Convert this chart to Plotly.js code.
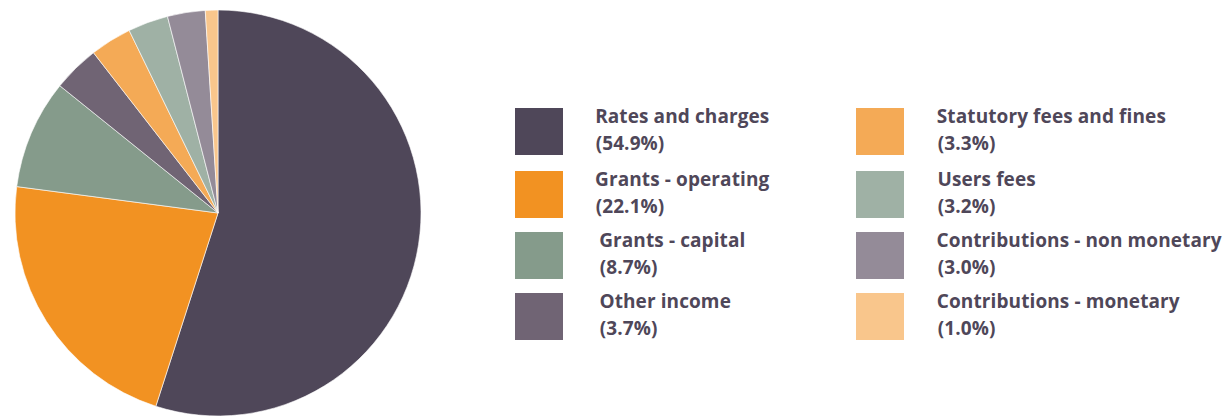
<!DOCTYPE html>
<html>
<head>
<meta charset="utf-8">
<script src="https://cdn.plot.ly/plotly-3.0.1.min.js"></script>
<style>
  html, body { margin: 0; padding: 0; background: #fff; }
  #chart { width: 1226px; height: 416px; }
  #chart .annotation-text { letter-spacing: 0.1px; }
</style>
</head>
<body>
<div id="chart"></div>
<script>
// ── Income sources (pie + two-column legend) ──

const categorias = [
    'Rates and charges',
    'Grants - operating',
    'Grants - capital',
    'Other income',
    'Statutory fees and fines',
    'Users fees',
    'Contributions - non monetary',
    'Contributions - monetary',
];
const porcentajes = [54.9, 22.1, 8.7, 3.7, 3.3, 3.2, 3.0, 1.0];
const colores = ['#4f4759', '#f29222', '#859b8b', '#706474', '#f4aa56', '#9fb1a5', '#948b98', '#f9c68c'];

const W = 1226, H = 416;
const TXT = '#4f4759';
const FONT = '"Open Sans", Lato, sans-serif';

// pixel -> paper helpers (margins are zero)
const px = x => x / W;
const py = y => 1 - y / H;

const pie = [
    {
        type: 'pie',
        labels: categorias,
        values: porcentajes,
        marker: { colors: colores, line: { color: '#ffffff', width: 0.6 } },
        sort: false,
        direction: 'clockwise',
        rotation: 0,
        textinfo: 'none',
        hoverinfo: 'label+percent',
        domain: { x: [px(15), px(421)], y: [0, py(10)] },
        showlegend: false,
    }
];

// legend: 4 rows x 2 columns, built from the arrays
const filas = [108, 171, 232, 293];
const colX = [515, 856];
const textX = [594, 936];
// the original nudges the last two left-column labels a little to the right
const sangria = [0, 0, 4, 4, 0, 0, 0, 0];
const shapes = [];
const annotations = [];
categorias.forEach((nombre, i) => {
    const col = Math.floor(i / 4);
    const fila = i % 4;
    const top = filas[fila];
    const tx = px(textX[col] + sangria[i]);
    shapes.push({
        type: 'rect', xref: 'paper', yref: 'paper',
        x0: px(colX[col]), x1: px(colX[col] + 48),
        y0: py(top), y1: py(top + 47),
        fillcolor: colores[i], line: { width: 0 },
    });
    annotations.push({
        xref: 'paper', yref: 'paper', x: tx, y: py(top + 8),
        xanchor: 'left', yanchor: 'middle', showarrow: false,
        text: '<b>' + nombre + '</b>',
        font: { family: FONT, size: 19, color: TXT },
    });
    annotations.push({
        xref: 'paper', yref: 'paper', x: tx, y: py(top + 35),
        xanchor: 'left', yanchor: 'middle', showarrow: false,
        text: '<b>(' + porcentajes[i].toFixed(1) + '%)</b>',
        font: { family: FONT, size: 19, color: TXT },
    });
});

Plotly.newPlot('chart', pie, {
    width: W, height: H,
    margin: { t: 0, r: 0, b: 0, l: 0 },
    paper_bgcolor: '#ffffff',
    showlegend: false,
    shapes: shapes,
    annotations: annotations,
}, { displayModeBar: false, staticPlot: true });
</script>
</body>
</html>
